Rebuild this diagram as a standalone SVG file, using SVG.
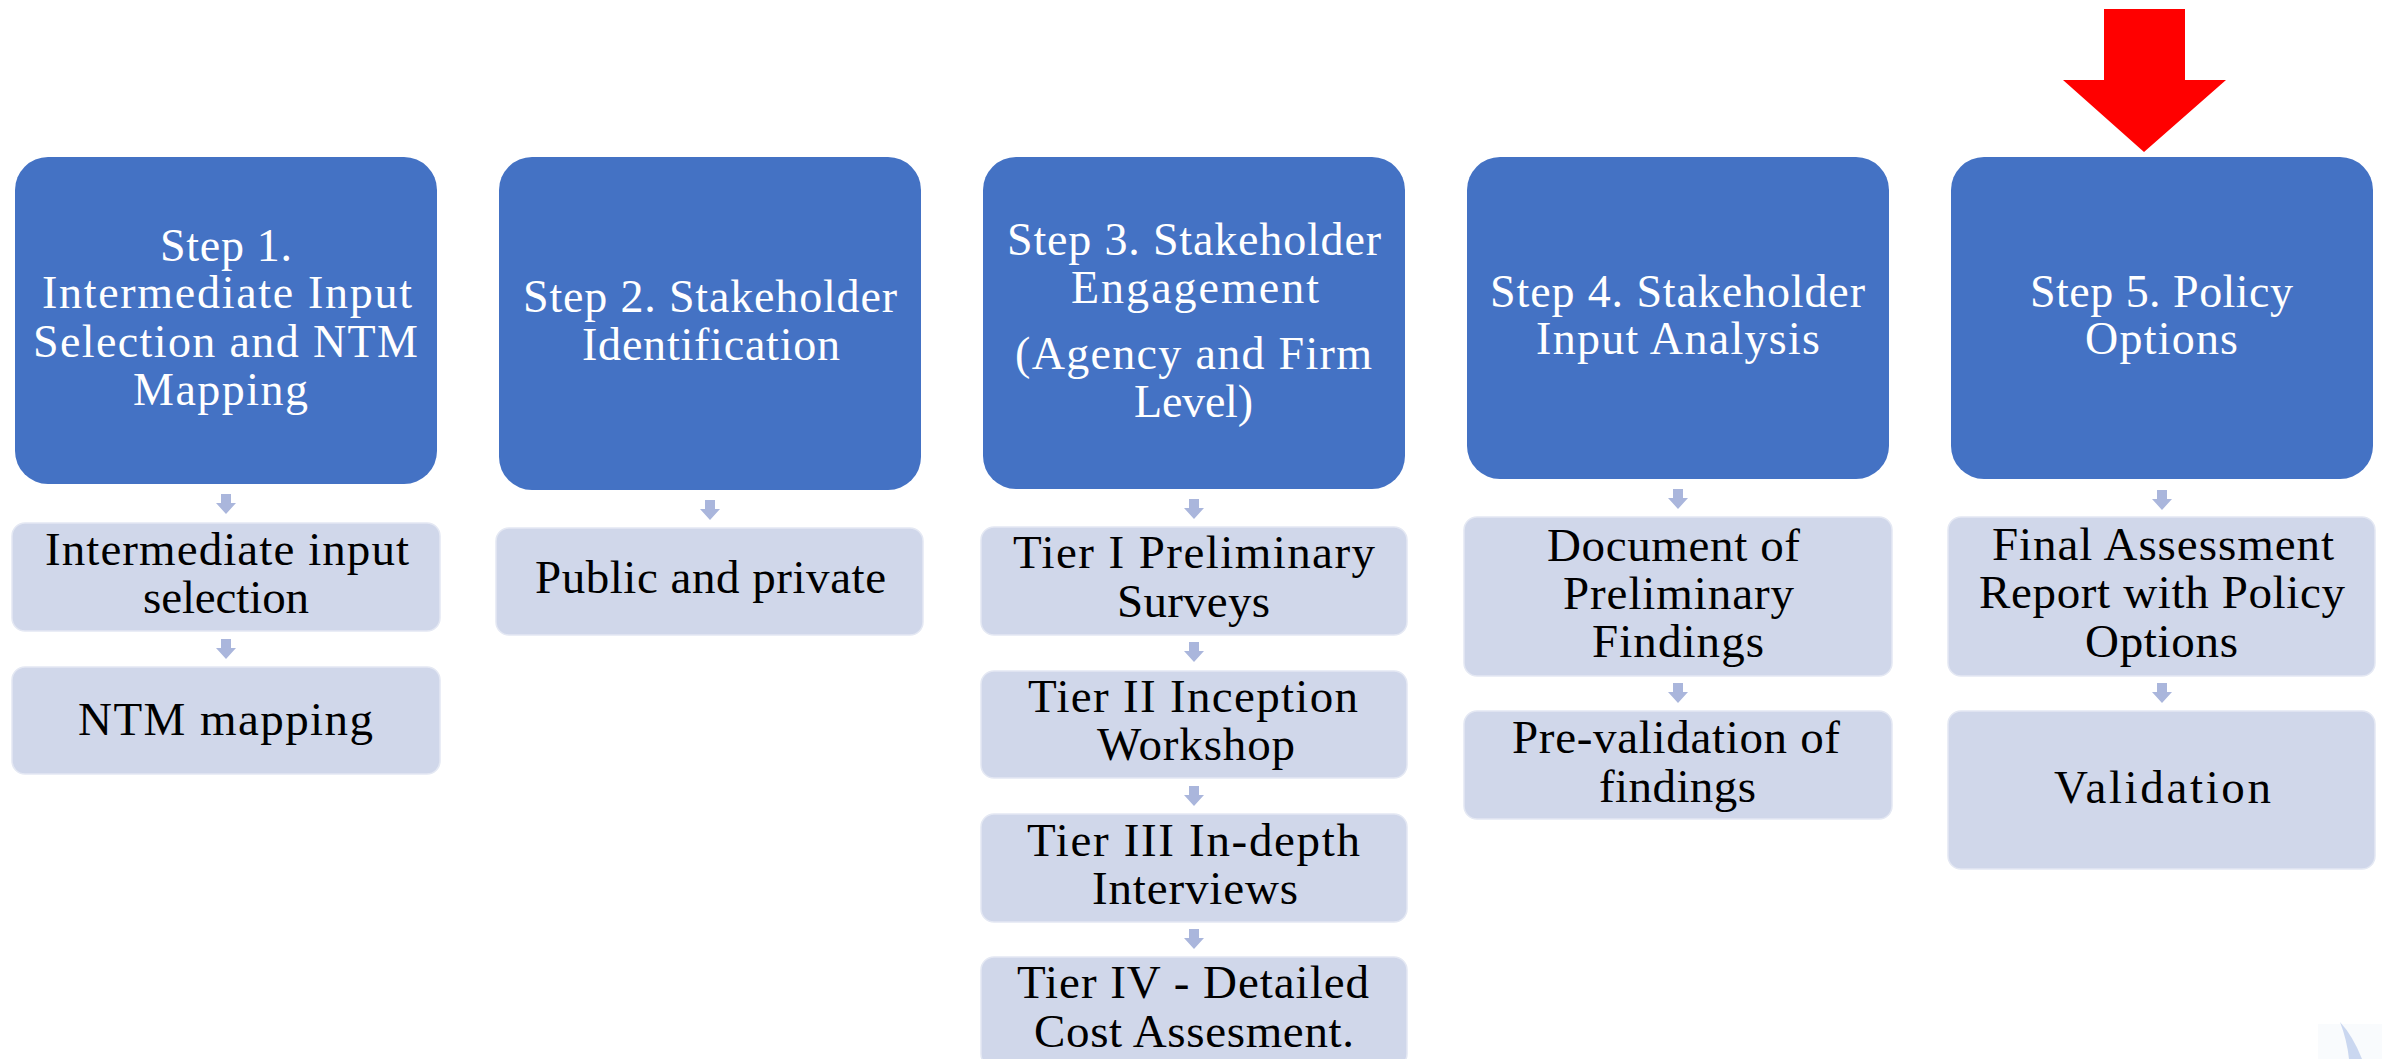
<svg xmlns="http://www.w3.org/2000/svg" width="2382" height="1059" viewBox="0 0 2382 1059">
  <style>
    .step { fill: #4472C4; }
    .sub { fill: #D0D7EA; stroke: #E4E8F3; stroke-width: 1.5; }
    .down { fill: #AAB6DC; }
    text { font-family: "Liberation Serif", "Times New Roman", serif; }
    .st { fill: #FFFFFF; font-size: 46px; }
    .sb { fill: #000000; font-size: 47px; }
  </style>
  <defs>
    <!-- small block arrow between stacked boxes, origin at top centre -->
    <path id="dn" d="M-5,0 H5 V9 H10 L0,20 L-10,9 H-5 Z"/>
  </defs>

  <rect width="2382" height="1059" fill="#FFFFFF"/>

  <!-- connectors -->
  <g id="connectors" class="down">
    <use href="#dn" x="226" y="494"/>
    <use href="#dn" x="226" y="639"/>
    <use href="#dn" x="710" y="500"/>
    <use href="#dn" x="1194" y="499"/>
    <use href="#dn" x="1194" y="642"/>
    <use href="#dn" x="1194" y="786"/>
    <use href="#dn" x="1194" y="929"/>
    <use href="#dn" x="1678" y="489"/>
    <use href="#dn" x="1678" y="683"/>
    <use href="#dn" x="2162" y="490"/>
    <use href="#dn" x="2162" y="683"/>
  </g>

  <!-- highlight arrow over step 5 -->
  <g id="highlight">
    <polygon points="2104,9 2185,9 2185,80 2226,80 2144,152 2063,80 2104,80" fill="#FF0000"/>
  </g>

  <!-- Step 1 -->
  <g id="step1">
    <rect class="step" x="15" y="157" width="422" height="327" rx="33"/>
    <text class="st" x="160" y="261" textLength="132" lengthAdjust="spacing">Step 1.</text>
    <text class="st" x="42" y="308" textLength="370" lengthAdjust="spacing">Intermediate Input</text>
    <text class="st" x="33" y="357" textLength="385" lengthAdjust="spacing">Selection and NTM</text>
    <text class="st" x="133" y="405" textLength="175" lengthAdjust="spacing">Mapping</text>
  </g>
  <g id="step1-a">
    <rect class="sub" x="12" y="523" width="428" height="108" rx="13"/>
    <text class="sb" x="45" y="565" textLength="364" lengthAdjust="spacing">Intermediate input</text>
    <text class="sb" x="143" y="613" textLength="166" lengthAdjust="spacing">selection</text>
  </g>
  <g id="step1-b">
    <rect class="sub" x="12" y="667" width="428" height="107" rx="13"/>
    <text class="sb" x="78" y="735" textLength="295" lengthAdjust="spacing">NTM mapping</text>
  </g>

  <!-- Step 2 -->
  <g id="step2">
    <rect class="step" x="499" y="157" width="422" height="333" rx="33"/>
    <text class="st" x="523" y="312" textLength="374" lengthAdjust="spacing">Step 2. Stakeholder</text>
    <text class="st" x="582" y="360" textLength="258" lengthAdjust="spacing">Identification</text>
  </g>
  <g id="step2-a">
    <rect class="sub" x="496" y="528" width="427" height="107" rx="13"/>
    <text class="sb" x="535" y="593" textLength="351" lengthAdjust="spacing">Public and private</text>
  </g>

  <!-- Step 3 -->
  <g id="step3">
    <rect class="step" x="983" y="157" width="422" height="332" rx="33"/>
    <text class="st" x="1007" y="255" textLength="374" lengthAdjust="spacing">Step 3. Stakeholder</text>
    <text class="st" x="1071" y="303" textLength="248" lengthAdjust="spacing">Engagement</text>
    <text class="st" x="1015" y="369" textLength="357" lengthAdjust="spacing">(Agency and Firm</text>
    <text class="st" x="1134" y="417" textLength="119" lengthAdjust="spacing">Level)</text>
  </g>
  <g id="step3-a">
    <rect class="sub" x="981" y="527" width="426" height="108" rx="13"/>
    <text class="sb" x="1013" y="568" textLength="362" lengthAdjust="spacing">Tier I Preliminary</text>
    <text class="sb" x="1117" y="617" textLength="153" lengthAdjust="spacing">Surveys</text>
  </g>
  <g id="step3-b">
    <rect class="sub" x="981" y="671" width="426" height="107" rx="13"/>
    <text class="sb" x="1028" y="712" textLength="330" lengthAdjust="spacing">Tier II Inception</text>
    <text class="sb" x="1097" y="760" textLength="198" lengthAdjust="spacing">Workshop</text>
  </g>
  <g id="step3-c">
    <rect class="sub" x="981" y="814" width="426" height="108" rx="13"/>
    <text class="sb" x="1027" y="856" textLength="333" lengthAdjust="spacing">Tier III In-depth</text>
    <text class="sb" x="1092" y="904" textLength="206" lengthAdjust="spacing">Interviews</text>
  </g>
  <g id="step3-d">
    <rect class="sub" x="981" y="957" width="426" height="110" rx="13"/>
    <text class="sb" x="1017" y="998" textLength="352" lengthAdjust="spacing">Tier IV - Detailed</text>
    <text class="sb" x="1034" y="1047" textLength="320" lengthAdjust="spacing">Cost Assesment.</text>
  </g>

  <!-- Step 4 -->
  <g id="step4">
    <rect class="step" x="1467" y="157" width="422" height="322" rx="33"/>
    <text class="st" x="1490" y="307" textLength="375" lengthAdjust="spacing">Step 4. Stakeholder</text>
    <text class="st" x="1536" y="354" textLength="284" lengthAdjust="spacing">Input Analysis</text>
  </g>
  <g id="step4-a">
    <rect class="sub" x="1464" y="517" width="428" height="159" rx="13"/>
    <text class="sb" x="1547" y="561" textLength="253" lengthAdjust="spacing">Document of</text>
    <text class="sb" x="1563" y="609" textLength="231" lengthAdjust="spacing">Preliminary</text>
    <text class="sb" x="1592" y="657" textLength="172" lengthAdjust="spacing">Findings</text>
  </g>
  <g id="step4-b">
    <rect class="sub" x="1464" y="711" width="428" height="108" rx="13"/>
    <text class="sb" x="1512" y="753" textLength="328" lengthAdjust="spacing">Pre-validation of</text>
    <text class="sb" x="1599" y="802" textLength="157" lengthAdjust="spacing">findings</text>
  </g>

  <!-- Step 5 -->
  <g id="step5">
    <rect class="step" x="1951" y="157" width="422" height="322" rx="33"/>
    <text class="st" x="2030" y="307" textLength="263" lengthAdjust="spacing">Step 5. Policy</text>
    <text class="st" x="2085" y="354" textLength="153" lengthAdjust="spacing">Options</text>
  </g>
  <g id="step5-a">
    <rect class="sub" x="1948" y="517" width="427" height="159" rx="13"/>
    <text class="sb" x="1992" y="560" textLength="342" lengthAdjust="spacing">Final Assessment</text>
    <text class="sb" x="1979" y="608" textLength="366" lengthAdjust="spacing">Report with Policy</text>
    <text class="sb" x="2085" y="657" textLength="153" lengthAdjust="spacing">Options</text>
  </g>
  <g id="step5-b">
    <rect class="sub" x="1948" y="711" width="427" height="158" rx="13"/>
    <text class="sb" x="2054" y="803" textLength="217" lengthAdjust="spacing">Validation</text>
  </g>

  <!-- faint sliver in the lower right corner -->
  <rect x="2318" y="1024" width="64" height="35" fill="#F1F4FB" opacity="0.4"/>
  <path d="M2340,1022 Q2353,1036 2362,1059 L2349,1059 Q2347,1040 2340,1022 Z" fill="#B7C7EA" opacity="0.7"/>
</svg>
